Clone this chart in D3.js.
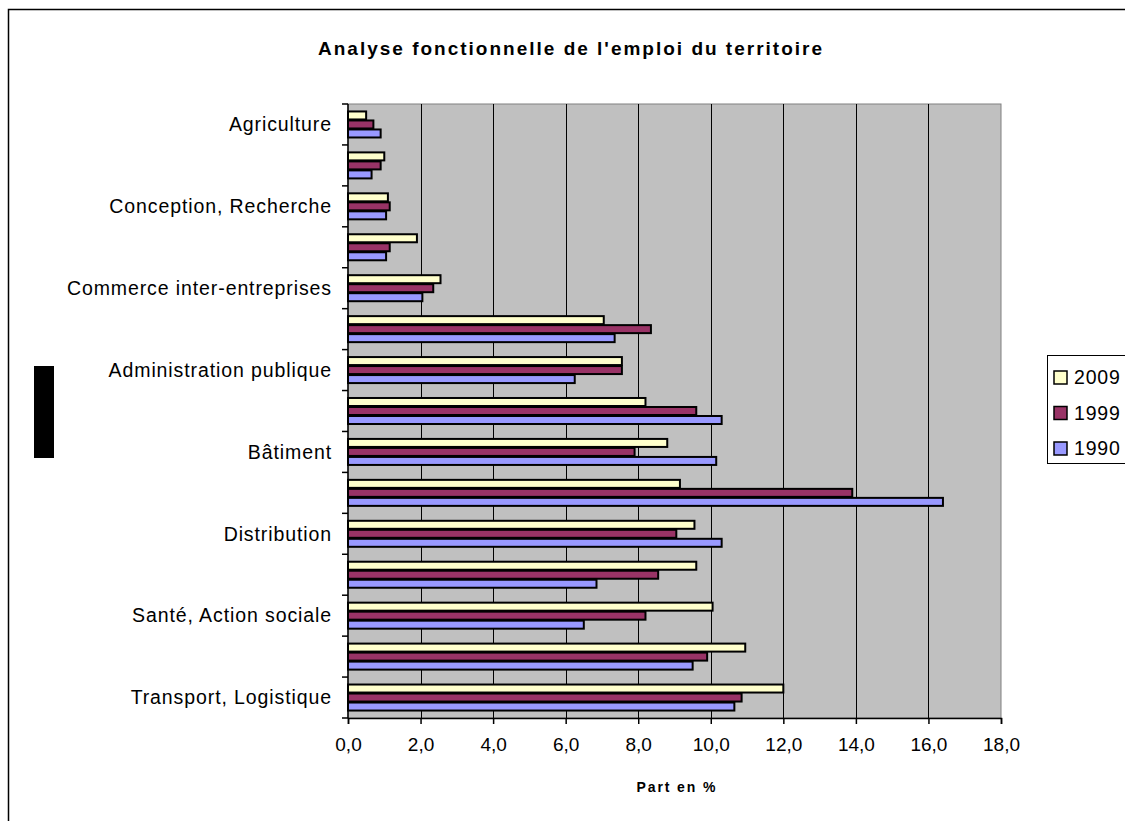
<!DOCTYPE html>
<html>
<head>
<meta charset="utf-8">
<script src="https://cdn.jsdelivr.net/npm/d3@7"></script>
<style>
  body { margin: 0; background: #fff; }
  svg text { font-family: "Liberation Sans", Arial, sans-serif; }
</style>
</head>
<body>
<div id="chart"></div>
<script>

var categories = ['Agriculture', 'Culture, Loisirs', 'Conception, Recherche', 'Prestations intellectuelles',
   'Commerce inter-entreprises', 'Entretien, Réparation', 'Administration publique', 'Education, Formation',
   'Bâtiment', 'Fabrication', 'Distribution', 'Services de proximité', 'Santé, Action sociale',
   'Gestion', 'Transport, Logistique'];
// only every other label is shown, like the original
var shownLabels = ['Agriculture', 'Conception, Recherche', 'Commerce inter-entreprises', 'Administration publique',
   'Bâtiment', 'Distribution', 'Santé, Action sociale', 'Transport, Logistique'];

var years = ['2009', '1999', '1990'];
var v2009 = [0.5, 1.0, 1.1, 1.9, 2.55, 7.05, 7.55, 8.2, 8.8, 9.15, 9.55, 9.6, 10.05, 10.95, 12.0];
var v1999 = [0.7, 0.9, 1.15, 1.15, 2.35, 8.35, 7.55, 9.6, 7.9, 13.9, 9.05, 8.55, 8.2, 9.9, 10.85];
var v1990 = [0.9, 0.65, 1.05, 1.05, 2.05, 7.35, 6.25, 10.3, 10.15, 16.4, 10.3, 6.85, 6.5, 9.5, 10.65];
var xTicks = [0, 2, 4, 6, 8, 10, 12, 14, 16, 18];

var colors = {'2009': '#FFFFCC', '1999': '#993366', '1990': '#9999FF'};
var seriesVals = {'2009': v2009, '1999': v1999, '1990': v1990};

var width = 1125, height = 821;
var plotLeft = 348, plotRight = 1001, plotTop = 104, plotBottom = 718;

var svg = d3.select('#chart').append('svg')
    .attr('width', width)
    .attr('height', height);

// chart frame
svg.append('rect')
    .attr('x', 8.5).attr('y', 9.5)
    .attr('width', 1140).attr('height', 840)
    .attr('fill', '#fff')
    .attr('stroke', '#000')
    .attr('stroke-width', 1.5);

var x = d3.scaleLinear().domain([0, 18]).range([plotLeft, plotRight]);
var y = d3.scaleBand().domain(categories).range([plotTop, plotBottom])
    .paddingInner(0.34).paddingOuter(0.17);
var ySub = d3.scaleBand().domain(years).range([0, y.bandwidth()]);

// plot area
svg.append('rect')
    .attr('x', plotLeft).attr('y', plotTop)
    .attr('width', plotRight - plotLeft).attr('height', plotBottom - plotTop)
    .attr('fill', '#C0C0C0')
    .attr('stroke', '#808080')
    .attr('stroke-width', 1);

// vertical gridlines
svg.append('g').selectAll('line')
    .data(xTicks.slice(1, -1))
    .enter().append('line')
    .attr('x1', function(d){ return Math.round(x(d)) + 0.5; })
    .attr('x2', function(d){ return Math.round(x(d)) + 0.5; })
    .attr('y1', plotTop).attr('y2', plotBottom)
    .attr('stroke', '#000')
    .attr('stroke-width', 1);

// bars
var groups = svg.append('g').selectAll('g')
    .data(categories)
    .enter().append('g')
    .attr('transform', function(d){ return 'translate(0,' + y(d) + ')'; });

groups.selectAll('rect')
    .data(function(d, i){ return years.map(function(yr){ return {year: yr, value: seriesVals[yr][i]}; }); })
    .enter().append('rect')
    .attr('x', x(0))
    .attr('y', function(d){ return ySub(d.year) + 0.5; })
    .attr('width', function(d){ return x(d.value) - x(0); })
    .attr('height', ySub.bandwidth() - 1)
    .attr('fill', function(d){ return colors[d.year]; })
    .attr('stroke', '#000')
    .attr('stroke-width', 2);

// x axis
var xAxis = d3.axisBottom(x)
    .tickValues(xTicks)
    .tickSize(6)
    .tickPadding(14)
    .tickFormat(function(d){ return d3.format('.1f')(d).replace('.', ','); });

var gx = svg.append('g')
    .attr('transform', 'translate(0,' + plotBottom + ')')
    .call(xAxis);
gx.select('.domain').attr('stroke', '#000').attr('stroke-width', 1.5);
gx.selectAll('.tick line').attr('stroke', '#000').attr('stroke-width', 1.5);
gx.selectAll('.tick text')
    .attr('fill', '#000')
    .style('font-size', '19px')
    .style('font-family', '"Liberation Sans", Arial, sans-serif');

// y axis: line, ticks at category boundaries, labels
svg.append('line')
    .attr('x1', plotLeft).attr('x2', plotLeft)
    .attr('y1', plotTop).attr('y2', plotBottom)
    .attr('stroke', '#000').attr('stroke-width', 1.5);

var step = y.step();
svg.append('g').selectAll('line')
    .data(d3.range(categories.length + 1))
    .enter().append('line')
    .attr('x1', plotLeft - 6).attr('x2', plotLeft)
    .attr('y1', function(i){ return plotTop + i * step; })
    .attr('y2', function(i){ return plotTop + i * step; })
    .attr('stroke', '#000').attr('stroke-width', 1.5);

svg.append('g').selectAll('text')
    .data(shownLabels)
    .enter().append('text')
    .attr('x', plotLeft - 16)
    .attr('y', function(d){ return y(d) + y.bandwidth() / 2; })
    .attr('dy', '0.35em')
    .attr('text-anchor', 'end')
    .style('font-size', '19.5px')
    .style('letter-spacing', '0.9px')
    .text(function(d){ return d; });

// titles
svg.append('text')
    .attr('x', 570).attr('y', 55)
    .attr('text-anchor', 'middle')
    .attr('textLength', 504)
    .attr('lengthAdjust', 'spacing')
    .style('font-size', '19px')
    .style('font-weight', 'bold')
    .text("Analyse fonctionnelle de l'emploi du territoire");

svg.append('text')
    .attr('x', 676).attr('y', 792)
    .attr('text-anchor', 'middle')
    .attr('textLength', 79)
    .attr('lengthAdjust', 'spacing')
    .style('font-size', '14px')
    .style('font-weight', 'bold')
    .text('Part en %');

// blacked-out block on the left
svg.append('rect')
    .attr('x', 34).attr('y', 366)
    .attr('width', 20).attr('height', 92)
    .attr('fill', '#000');

// legend
var legend = svg.append('g');
legend.append('rect')
    .attr('x', 1047.5).attr('y', 355.5)
    .attr('width', 100).attr('height', 108)
    .attr('fill', '#fff')
    .attr('stroke', '#000').attr('stroke-width', 1);

var items = legend.selectAll('g.item')
    .data(years)
    .enter().append('g')
    .attr('class', 'item')
    .attr('transform', function(d, i){ return 'translate(1054,' + (377 + i * 35.5) + ')'; });

items.append('rect')
    .attr('x', 0).attr('y', -6)
    .attr('width', 13).attr('height', 13)
    .attr('fill', function(d){ return colors[d]; })
    .attr('stroke', '#000').attr('stroke-width', 1.5);

items.append('text')
    .attr('x', 20).attr('y', 0)
    .attr('dy', '0.36em')
    .style('font-size', '19.5px')
    .style('letter-spacing', '0.8px')
    .text(function(d){ return d; });

</script>
</body>
</html>
